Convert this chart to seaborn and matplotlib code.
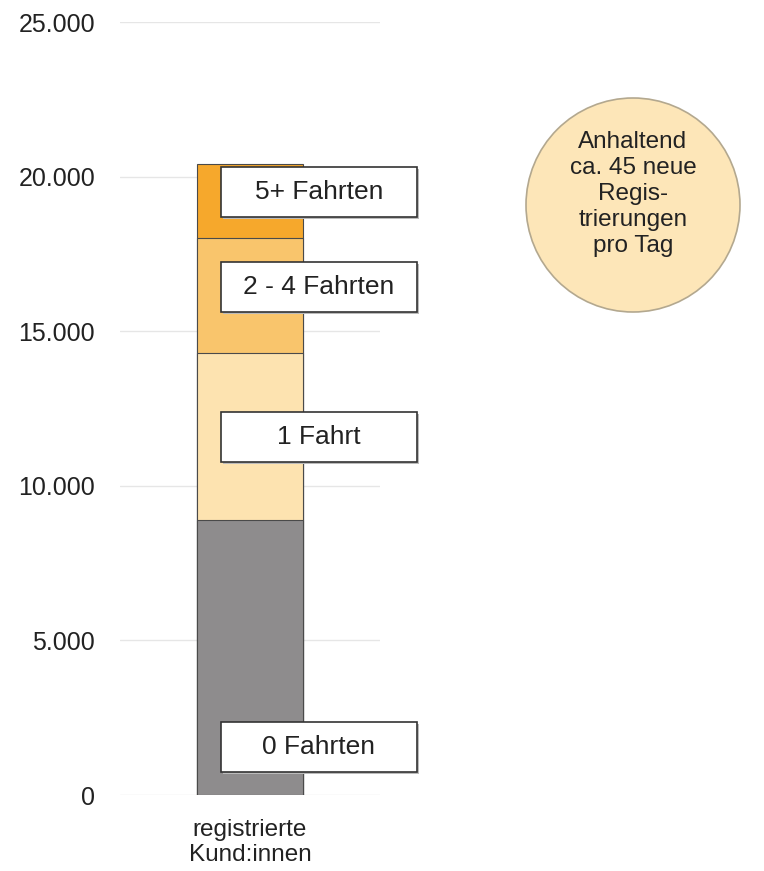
import numpy as np
import pandas as pd
import matplotlib.pyplot as plt
from matplotlib.patches import Rectangle, Ellipse
from matplotlib.ticker import FuncFormatter
import seaborn as sns

# values
category = ["registrierte\nKund:innen"]
segments = ["0 Fahrten", "1 Fahrt", "2 - 4 Fahrten", "5+ Fahrten"]
counts = [8900, 5400, 3700, 2400]
colors = ["#8e8c8d", "#fde3b0", "#f9c56c", "#f6a82c"]
label_y = [1550, 11580, 16430, 19500]   # where the boxed labels sit
yticks = [0, 5000, 10000, 15000, 20000, 25000]
note = "Anhaltend\nca. 45 neue\nRegis-\ntrierungen\npro Tag"

sns.set_style("white")
plt.rcParams["font.family"] = ["Liberation Sans", "DejaVu Sans"]

fig = plt.figure(figsize=(7.64, 8.71), dpi=100)
ax = fig.add_axes([120 / 764, 76 / 871, 260 / 764, 773 / 871])

# stacked bar: draw cumulative totals, tallest first
cum = np.cumsum(counts)
for total, col in zip(cum[::-1], colors[::-1]):
    df = pd.DataFrame({"cat": category, "val": [total]})
    sns.barplot(data=df, x="cat", y="val", color=col, width=0.41,
                edgecolor="#4a4a4a", linewidth=0.8, saturation=1, ax=ax, zorder=2)

ax.set_xlim(-0.5, 0.5)
ax.set_ylim(0, 25000)
ax.set_yticks(yticks)
ax.yaxis.set_major_formatter(FuncFormatter(lambda v, p: f"{int(v):,}".replace(",", ".")))
ax.grid(axis="y", color="#e6e6e6", linewidth=1, zorder=0)
ax.set_axisbelow(True)
for s in ax.spines.values():
    s.set_visible(False)
ax.set_xlabel("")
ax.set_ylabel("")
ax.tick_params(axis="y", labelsize=18, pad=18, length=0, colors="#222222")
ax.tick_params(axis="x", labelsize=17.5, pad=17, length=0, colors="#222222")

# boxed segment labels
bw, bh = 0.754, 1620
bx = -0.112
for name, yc in zip(segments, label_y):
    ax.add_patch(Rectangle((bx + 0.008, yc - bh / 2 - 60), bw, bh, facecolor="#bbbbbb",
                           edgecolor="none", clip_on=False, zorder=3))
    ax.add_patch(Rectangle((bx, yc - bh / 2), bw, bh, facecolor="white",
                           edgecolor="#333333", linewidth=1.2, clip_on=False, zorder=4))
    ax.text(bx + bw / 2, yc, name, ha="center", va="center", fontsize=19,
            color="#222222", zorder=5, clip_on=False)

# info bubble
fig.add_artist(Ellipse((633 / 764, 1 - 205 / 871), 214 / 764, 214 / 871,
                       transform=fig.transFigure, facecolor="#fde6b8",
                       edgecolor="#b3a88f", linewidth=1.2))
fig.text(633 / 764, 1 - 194 / 871, note, ha="center", va="center", fontsize=17.5,
         linespacing=1.24, color="#222222")

fig.savefig("out.png", dpi=100, facecolor="white")
